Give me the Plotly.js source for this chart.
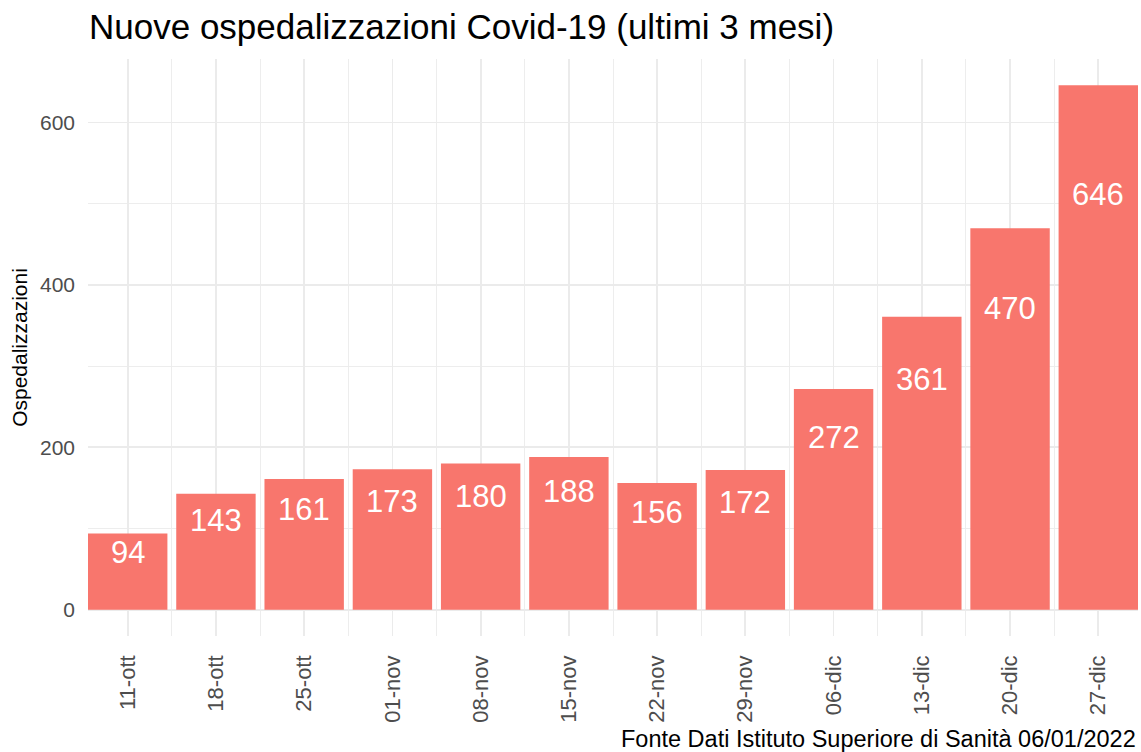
<!DOCTYPE html>
<html>
<head>
<meta charset="utf-8">
<script src="https://cdn.plot.ly/plotly-3.0.1.min.js"></script>
<style>html,body{margin:0;padding:0;background:#fff;}#chart{width:1141px;height:752px;}</style>
</head>
<body>
<div id="chart"></div>
<script>
const categories = ["11-ott","18-ott","25-ott","01-nov","08-nov","15-nov","22-nov","29-nov","06-dic","13-dic","20-dic","27-dic"];
const values = [94,143,161,173,180,188,156,172,272,361,470,646];
const yTickVals = [0,200,400,600];

const FONT = "Liberation Sans, Arial, sans-serif";
const idx = categories.map((c,i)=>i);
const maxV = Math.max(...values);

const bars = {
  type: 'bar',
  x: idx,
  y: values,
  width: 0.9,
  marker: {color: '#F8766D'},
  hoverinfo: 'skip'
};

const labelAnnotations = values.map((v, i) => ({
  x: idx[i], y: v * 0.8, xref: 'x', yref: 'y',
  text: String(v), showarrow: false,
  xanchor: 'center', yanchor: 'middle', yshift: -4,
  font: {family: FONT, size: 31, color: '#FFFFFF'}
}));

const layout = {
  width: 1141,
  height: 752,
  margin: {l: 88, r: 3, t: 59, b: 116, pad: 0},
  paper_bgcolor: '#FFFFFF',
  plot_bgcolor: '#FFFFFF',
  showlegend: false,
  font: {family: FONT},
  title: {
    text: 'Nuove ospedalizzazioni Covid-19 (ultimi 3 mesi)',
    font: {family: FONT, size: 35, color: '#000000'},
    xref: 'container', x: 89/1141, xanchor: 'left',
    yref: 'container', y: 1 - 27/752, yanchor: 'middle'
  },
  xaxis: {
    range: [-0.45, 11.45],
    tickmode: 'array',
    tickvals: idx,
    ticktext: categories,
    tickangle: -90,
    tickfont: {family: FONT, size: 22, color: '#4D4D4D'},
    ticks: '',
    ticklabelstandoff: 14,
    showgrid: true, gridcolor: '#EBEBEB', gridwidth: 1.8,
    minor: {tickmode: 'linear', tick0: 0.5, dtick: 1, showgrid: true, gridcolor: '#EBEBEB', gridwidth: 0.9, ticks: ''},
    zeroline: false, showline: false, fixedrange: true
  },
  yaxis: {
    range: [-0.05*maxV, 1.05*maxV],
    tickmode: 'array',
    tickvals: yTickVals,
    tickfont: {family: FONT, size: 21, color: '#4D4D4D'},
    ticks: '',
    ticklabelstandoff: 12,
    showgrid: true, gridcolor: '#EBEBEB', gridwidth: 1.8,
    minor: {tickmode: 'linear', tick0: 100, dtick: 200, showgrid: true, gridcolor: '#EBEBEB', gridwidth: 0.9, ticks: ''},
    zeroline: false, showline: false, fixedrange: true,
    title: {text: 'Ospedalizzazioni', font: {family: FONT, size: 21, color: '#000000'}, standoff: 6}
  },
  annotations: labelAnnotations.concat([{
    text: 'Fonte Dati Istituto Superiore di Sanità 06/01/2022',
    xref: 'paper', yref: 'paper',
    x: 1, xanchor: 'right',
    y: (636 - 739) / 577, yanchor: 'middle',
    showarrow: false,
    font: {family: FONT, size: 23.5, color: '#000000'}
  }])
};

Plotly.newPlot('chart', [bars], layout, {displayModeBar: false, staticPlot: true});
</script>
</body>
</html>
